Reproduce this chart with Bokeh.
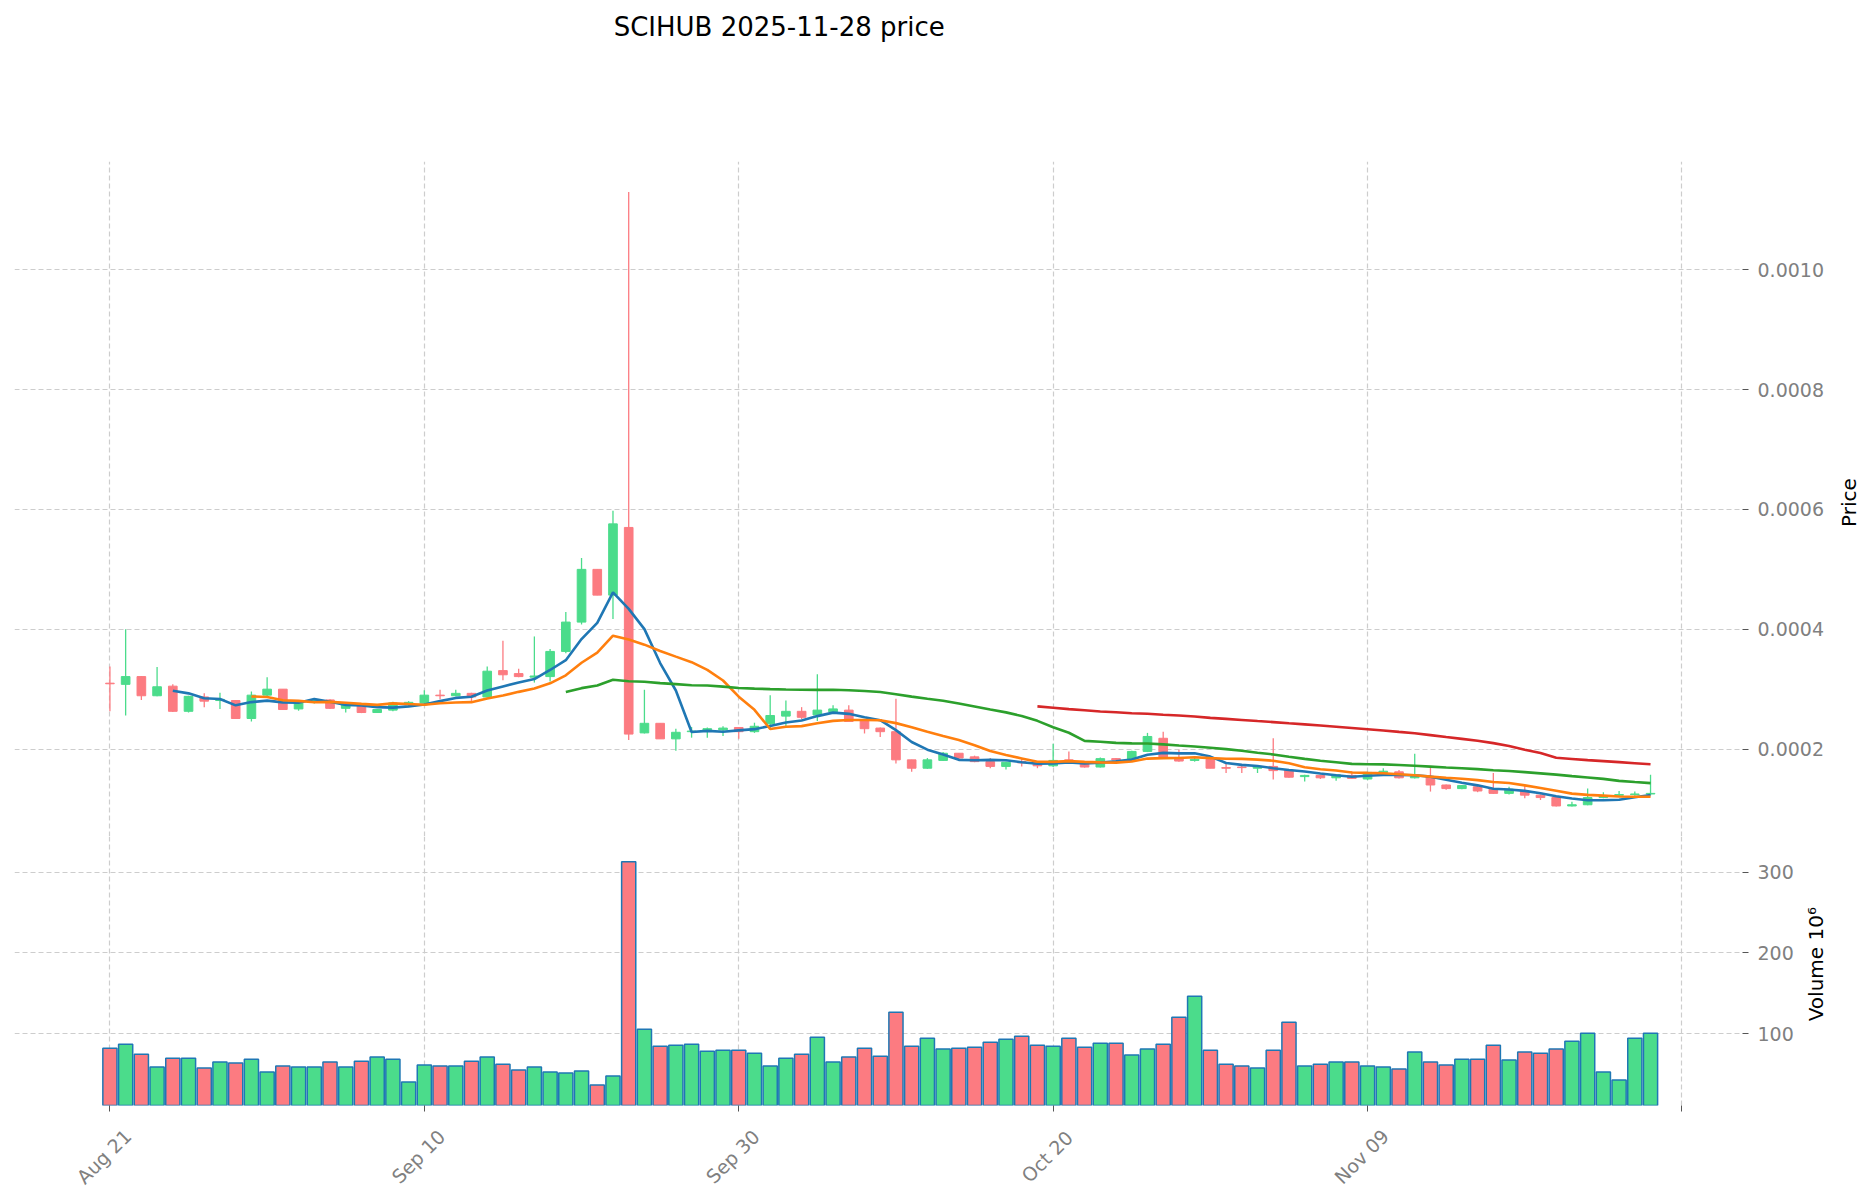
import math
import pandas as pd
from bokeh.plotting import figure
from bokeh.models import Range1d, FixedTicker
from bokeh.core.properties import value
from bokeh.layouts import column, row
from bokeh.embed import file_html
from bokeh.resources import INLINE

# ---------------- data (prices in units of 1e-4, volume in units of 1e6) ----------------
opens = [3.10, 3.08, 3.21, 2.89, 3.05, 2.63, 2.87, 2.81, 2.81, 2.51,
         2.90, 3.00, 2.67, 2.78, 2.82, 2.68, 2.74, 2.61, 2.65, 2.74,
         2.77, 2.90, 2.89, 2.93, 2.87, 3.31, 3.26, 3.20, 3.21, 3.63,
         4.12, 5.00, 4.57, 5.70, 2.27, 2.43, 2.17, 2.29, 2.30, 2.32,
         2.36, 2.29, 2.42, 2.55, 2.63, 2.57, 2.62, 2.65, 2.47, 2.35,
         2.29, 1.82, 1.68, 1.81, 1.93, 1.87, 1.79, 1.71, 1.79, 1.78,
         1.72, 1.82, 1.78, 1.70, 1.84, 1.82, 1.96, 2.18, 1.86, 1.81,
         1.83, 1.69, 1.70, 1.68, 1.71, 1.65, 1.54, 1.56, 1.52, 1.56,
         1.50, 1.61, 1.62, 1.52, 1.54, 1.40, 1.34, 1.37, 1.33, 1.26,
         1.30, 1.23, 1.19, 1.05, 1.07, 1.19, 1.23, 1.24, 1.25]
highs = [3.38, 4.00, 3.22, 3.37, 3.08, 2.89, 2.93, 2.94, 2.82, 2.96,
         3.20, 3.00, 2.81, 2.84, 2.83, 2.76, 2.75, 2.67, 2.79, 2.80,
         2.98, 2.99, 2.99, 2.94, 3.38, 3.81, 3.34, 3.88, 3.67, 4.29,
         5.19, 5.00, 5.98, 11.30, 2.99, 2.43, 2.34, 2.37, 2.36, 2.38,
         2.37, 2.44, 2.90, 2.81, 2.70, 3.25, 2.73, 2.73, 2.47, 2.36,
         2.84, 1.82, 1.85, 1.95, 1.93, 1.89, 1.85, 1.79, 1.85, 1.79,
         2.09, 1.96, 1.79, 1.86, 1.85, 1.97, 2.27, 2.29, 1.99, 1.88,
         1.84, 1.77, 1.74, 1.73, 2.18, 1.66, 1.57, 1.57, 1.58, 1.63,
         1.62, 1.68, 1.65, 1.92, 1.70, 1.41, 1.40, 1.38, 1.60, 1.37,
         1.40, 1.24, 1.20, 1.12, 1.34, 1.28, 1.30, 1.29, 1.57]
lows = [2.63, 2.56, 2.82, 2.88, 2.62, 2.61, 2.70, 2.67, 2.50, 2.46,
        2.88, 2.65, 2.64, 2.76, 2.67, 2.61, 2.60, 2.60, 2.63, 2.70,
        2.74, 2.83, 2.88, 2.80, 2.86, 3.15, 3.20, 3.11, 3.13, 3.60,
        4.08, 4.57, 4.17, 2.15, 2.26, 2.17, 1.97, 2.19, 2.19, 2.22,
        2.17, 2.27, 2.35, 2.35, 2.50, 2.47, 2.60, 2.45, 2.26, 2.20,
        1.76, 1.62, 1.67, 1.80, 1.81, 1.78, 1.68, 1.66, 1.71, 1.68,
        1.70, 1.79, 1.69, 1.69, 1.81, 1.81, 1.95, 1.84, 1.79, 1.79,
        1.68, 1.60, 1.60, 1.60, 1.49, 1.52, 1.46, 1.50, 1.47, 1.50,
        1.48, 1.60, 1.51, 1.51, 1.29, 1.32, 1.33, 1.28, 1.25, 1.24,
        1.18, 1.15, 1.04, 1.04, 1.06, 1.18, 1.21, 1.22, 1.23]
closes = [3.09, 3.21, 2.89, 3.04, 2.63, 2.88, 2.80, 2.83, 2.51, 2.90,
          3.00, 2.66, 2.80, 2.81, 2.68, 2.74, 2.61, 2.66, 2.77, 2.78,
          2.90, 2.89, 2.93, 2.87, 3.30, 3.24, 3.21, 3.22, 3.63, 4.12,
          5.00, 4.57, 5.76, 2.25, 2.43, 2.17, 2.28, 2.30, 2.34, 2.35,
          2.29, 2.38, 2.56, 2.63, 2.53, 2.65, 2.67, 2.46, 2.34, 2.29,
          1.82, 1.68, 1.82, 1.93, 1.85, 1.79, 1.71, 1.78, 1.77, 1.72,
          1.81, 1.80, 1.70, 1.84, 1.82, 1.96, 2.21, 1.85, 1.80, 1.83,
          1.68, 1.68, 1.69, 1.71, 1.64, 1.53, 1.56, 1.52, 1.57, 1.51,
          1.61, 1.63, 1.52, 1.54, 1.40, 1.34, 1.39, 1.30, 1.26, 1.33,
          1.23, 1.19, 1.05, 1.07, 1.19, 1.22, 1.24, 1.25, 1.26]
volumes = [81.9, 86.8, 74.5, 58.4, 69.5, 69.5, 57.2, 64.6, 63.4, 68.3,
           52.3, 59.7, 58.4, 58.4, 64.6, 58.4, 65.8, 70.8, 68.3, 39.9,
           60.9, 59.7, 59.7, 65.8, 70.8, 62.1, 54.7, 58.4, 52.3, 51.0,
           53.5, 36.2, 47.3, 312.8, 105.3, 84.4, 85.6, 86.8, 78.2, 79.4,
           79.4, 75.7, 59.7, 69.5, 74.5, 95.5, 64.6, 70.8, 81.9, 72.0,
           126.3, 84.4, 94.2, 80.7, 81.9, 83.1, 89.3, 93.0, 96.7, 85.6,
           84.4, 94.2, 83.1, 88.1, 88.1, 73.3, 80.7, 86.8, 120.2, 146.1,
           79.4, 62.1, 59.7, 57.2, 79.4, 114.0, 59.7, 62.1, 64.6, 64.6,
           59.7, 58.4, 56.0, 77.0, 64.6, 60.9, 68.3, 68.3, 85.6, 67.1,
           77.0, 75.7, 80.7, 90.5, 100.4, 52.3, 42.4, 94.2, 100.4]

x_tick_positions = [0, 20, 40, 60, 80, 100]
x_tick_labels = ["Aug 21", "Sep 10", "Sep 30", "Oct 20", "Nov 09", ""]
price_ticks = [2, 4, 6, 8, 10]
price_tick_labels = ["0.0002", "0.0004", "0.0006", "0.0008", "0.0010"]
volume_ticks = [100, 200, 300]
mav_windows = [5, 10, 30, 60]
mav_colors = ["#1f77b4", "#ff7f0e", "#2ca02c", "#d62728"]
title_text = "SCIHUB  2025-11-28  price"
price_label = "Price"
volume_label = "Volume  10\u2076"

UP = "#4bdc8b"
DOWN = "#fc7b81"
FONT = "DejaVu Sans"
GRID = "#cdcdcd"
TICKLAB = "#808080"
PAGE_W = 1866
LEFT = 14
FRAME_W = 1728
P1_H = 675
P2_H = 269
P1_RIGHT = 96
P2_RIGHT = 63
P2_BOTTOM = 20
XLAB_H = 70

df = pd.DataFrame({"open": opens, "high": highs, "low": lows,
                   "close": closes, "volume": volumes})
df["x"] = range(len(df))
df["color"] = [UP if c >= o else DOWN for o, c in zip(df["open"], df["close"])]

xr = Range1d(-6.07, 103.85)


def blank(width, height, xrange=None, yrange=None):
    q = figure(width=width, height=height,
               x_range=xrange if xrange is not None else Range1d(0, width),
               y_range=yrange if yrange is not None else Range1d(0, height),
               x_axis_location=None, y_axis_location=None,
               output_backend="svg", toolbar_location=None, min_border=0)
    q.outline_line_color = None
    q.xgrid.visible = False
    q.ygrid.visible = False
    return q


def style_common(p):
    p.outline_line_color = None
    p.background_fill_color = "white"
    p.border_fill_color = "white"
    for g in p.xgrid + p.ygrid:
        g.grid_line_color = GRID
        g.grid_line_dash = "5 3"
        g.grid_line_width = 1.2
    p.xgrid.ticker = FixedTicker(ticks=x_tick_positions)


def style_yaxis(ax):
    ax.axis_line_color = None
    ax.major_tick_line_color = "#555555"
    ax.major_tick_out = 6
    ax.major_tick_in = 0
    ax.minor_tick_line_color = None
    ax.major_label_text_color = TICKLAB
    ax.major_label_text_font = FONT
    ax.major_label_text_font_size = "19px"
    ax.major_label_standoff = 9


# ---------------- title strip ----------------
p0 = blank(PAGE_W, 161, yrange=Range1d(161, 0))
p0.text(x=[647], y=[26], text=[title_text], text_font=value(FONT),
        text_font_size=value("26px"), text_baseline="middle",
        text_align="left", text_color="black")

# ---------------- price panel ----------------
p1 = figure(frame_width=FRAME_W, frame_height=P1_H, x_range=xr,
            y_range=Range1d(0.54, 11.81), x_axis_location=None,
            y_axis_location="right", output_backend="svg",
            toolbar_location=None, min_border_left=LEFT, min_border_top=0,
            min_border_bottom=0, min_border_right=P1_RIGHT)
style_common(p1)
p1.yaxis.ticker = FixedTicker(ticks=price_ticks)
p1.yaxis.major_label_overrides = dict(zip(price_ticks, price_tick_labels))
style_yaxis(p1.yaxis[0])

p1.segment(x0="x", y0="high", x1="x", y1="low", color="color",
           line_width=1.3, source=df)
p1.vbar(x="x", width=0.55, top="open", bottom="close", fill_color="color",
        line_color="color", line_width=1, source=df)

for w, c in zip(mav_windows, mav_colors):
    ma = df["close"].rolling(w).mean()
    p1.line(df["x"], ma, color=c, line_width=2.6)

q1_w = PAGE_W - (LEFT + FRAME_W + P1_RIGHT)
q1 = blank(q1_w, P1_H)
q1.text(x=[10], y=[P1_H - 341], text=[price_label], angle=math.pi / 2,
        text_font=value(FONT), text_font_size=value("20px"),
        text_align="center", text_baseline="middle", text_color="black")

# ---------------- volume panel ----------------
p2 = figure(frame_width=FRAME_W, frame_height=P2_H, x_range=xr,
            y_range=Range1d(10.86, 344.1), y_axis_location="right",
            output_backend="svg", toolbar_location=None, min_border_left=LEFT,
            min_border_top=0, min_border_right=P2_RIGHT,
            min_border_bottom=P2_BOTTOM)
style_common(p2)
p2.yaxis.ticker = FixedTicker(ticks=volume_ticks)
style_yaxis(p2.yaxis[0])

p2.vbar(x="x", width=0.9, top="volume", bottom=0, fill_color="color",
        line_color="#1f77b4", line_width=1.5, source=df)

xa = p2.xaxis[0]
xa.ticker = FixedTicker(ticks=x_tick_positions)
xa.major_label_overrides = {t: "" for t in x_tick_positions}
xa.axis_line_color = None
xa.major_tick_line_color = "#555555"
xa.major_tick_out = 6
xa.major_tick_in = 0
xa.minor_tick_line_color = None
xa.major_label_text_font_size = "1px"
xa.major_label_standoff = 0

q2_w = PAGE_W - (LEFT + FRAME_W + P2_RIGHT)
q2 = blank(q2_w, P2_H)
q2.text(x=[10], y=[P2_H / 2], text=[volume_label], angle=math.pi / 2,
        text_font=value(FONT), text_font_size=value("20px"),
        text_align="center", text_baseline="middle", text_color="black")

# ---------------- rotated date labels ----------------
p3 = figure(frame_width=FRAME_W, height=XLAB_H, x_range=xr,
            y_range=Range1d(0, XLAB_H), x_axis_location=None,
            y_axis_location=None, output_backend="svg",
            toolbar_location=None, min_border_left=LEFT, min_border_top=0,
            min_border_bottom=0, min_border_right=PAGE_W - LEFT - FRAME_W)
p3.outline_line_color = None
p3.xgrid.visible = False
p3.ygrid.visible = False
lab_x = [t for t, s in zip(x_tick_positions, x_tick_labels) if s]
lab_t = [s for s in x_tick_labels if s]
p3.text(x=lab_x, y=[XLAB_H - 31] * len(lab_x), text=lab_t,
        angle=math.pi / 4, x_offset=-6, text_font=value(FONT),
        text_font_size=value("19px"), text_align="center",
        text_baseline="middle", text_color=TICKLAB)

layout = column(p0, row(p1, q1, spacing=0), row(p2, q2, spacing=0), p3,
                spacing=0)
open("out.html", "w").write(file_html(layout, INLINE))
